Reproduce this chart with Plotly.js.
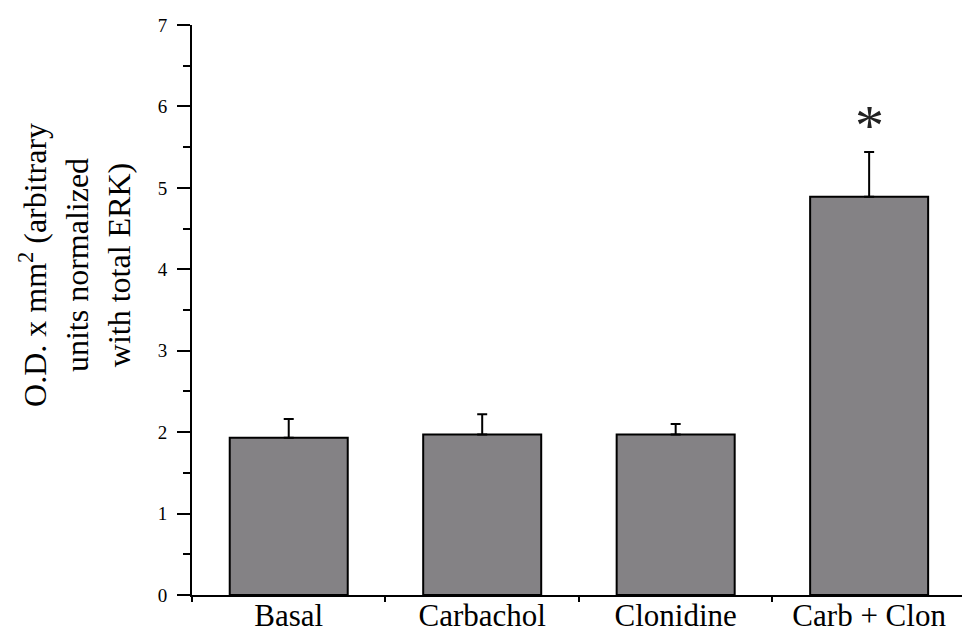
<!DOCTYPE html>
<html>
<head>
<meta charset="utf-8">
<script src="https://cdn.plot.ly/plotly-3.0.1.min.js"></script>
<style>html,body{margin:0;padding:0;background:#fff;}#chart{width:965px;height:635px;}</style>
</head>
<body>
<div id="chart"></div>
<script>
const categories = ["Basal", "Carbachol", "Clonidine", "Carb + Clon"];
const meanValues = [1.93, 1.97, 1.97, 4.89];
const semValues = [0.23, 0.25, 0.13, 0.55];
const significance = ["", "", "", "*"];
const yTickVals = [0, 1, 2, 3, 4, 5, 6, 7];
const yTickText = ["0", "1", "2", "3", "4", "5", "6", "7"];
const yTitleText = "O.D. x mm<sup>2</sup> (arbitrary<br>units normalized<br>with total ERK)";

const serif = "Liberation Serif, Times New Roman, serif";

const barTrace = {
  type: "bar",
  x: categories,
  y: meanValues,
  width: 0.61,
  marker: { color: "#848285", line: { color: "#000", width: 2 } },
  error_y: {
    type: "data",
    symmetric: false,
    array: semValues,
    arrayminus: semValues.map(() => 0),
    color: "#000",
    thickness: 2,
    width: 5
  },
  hoverinfo: "skip",
  showlegend: false
};

const annotations = categories.map((c, i) => ({
  x: c, y: meanValues[i] + semValues[i],
  xref: "x", yref: "y",
  text: significance[i],
  showarrow: false,
  xanchor: "center", yanchor: "bottom",
  yshift: -8,
  font: { family: serif, size: 58, color: "#222" }
})).filter(a => a.text);

annotations.push({
  xref: "paper", yref: "paper",
  x: 0, y: 0.579,
  xanchor: "center", yanchor: "middle",
  xshift: -117,
  textangle: -90,
  showarrow: false,
  align: "center",
  text: yTitleText,
  font: { family: serif, size: 32, color: "#000" }
});

const layout = {
  width: 965, height: 635,
  margin: { l: 192, r: 3, t: 25, b: 40 },
  paper_bgcolor: "#fff", plot_bgcolor: "#fff",
  showlegend: false,
  xaxis: {
    type: "category",
    range: [-0.5, 3.48],
    tickson: "boundaries",
    ticks: "outside", ticklen: 5, tickwidth: 2, tickcolor: "#000",
    showline: true, linecolor: "#000", linewidth: 2,
    showgrid: false, zeroline: false,
    tickfont: { family: serif, size: 31, color: "#000" },
    ticklabelstandoff: -8,
    automargin: false,
    fixedrange: true
  },
  yaxis: {
    range: [0, 7],
    tickvals: yTickVals, ticktext: yTickText,
    ticks: "outside", ticklen: 13, tickwidth: 2, tickcolor: "#000",
    minor: { dtick: 0.5, ticks: "outside", ticklen: 7, tickwidth: 2, tickcolor: "#000", showgrid: false },
    showline: true, linecolor: "#000", linewidth: 2,
    showgrid: false, zeroline: false,
    tickfont: { family: serif, size: 19, color: "#000" },
    ticklabelstandoff: 6,
    automargin: false,
    fixedrange: true
  },
  annotations: annotations
};

Plotly.newPlot("chart", [barTrace], layout, { displayModeBar: false, staticPlot: true });
</script>
</body>
</html>
